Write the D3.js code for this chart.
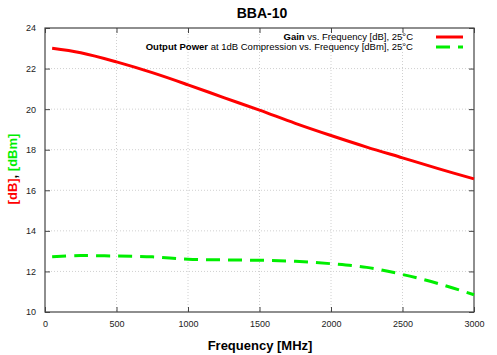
<!DOCTYPE html>
<html><head><meta charset="utf-8">
<script src="https://cdn.jsdelivr.net/npm/d3@7"></script>
<style>body{margin:0;background:#fff;} text{font-family:"Liberation Sans",Arial,sans-serif;}</style>
</head><body>
<svg id="c" width="497" height="355"></svg>
<script>
const freq = [50, 250, 500, 750, 1000, 1250, 1500, 1750, 2000, 2250, 2500, 2750, 3000];
const gain = [23.0, 22.78, 22.33, 21.8, 21.2, 20.57, 19.95, 19.3, 18.7, 18.13, 17.6, 17.07, 16.56];
const p1db = [12.72, 12.78, 12.76, 12.72, 12.6, 12.57, 12.55, 12.5, 12.38, 12.2, 11.85, 11.4, 10.85];
const xTicks = [0, 500, 1000, 1500, 2000, 2500, 3000];
const yTicks = [10, 12, 14, 16, 18, 20, 22, 24];

const svg = d3.select("#c");
const L = 45, R = 474, T = 28, B = 312;
const x = d3.scaleLinear().domain([0, 3000]).range([L, R]);
const y = d3.scaleLinear().domain([10, 24]).range([B, T]);

// grid
svg.append("g").selectAll("line").data(xTicks.slice(1, -1)).join("line")
  .attr("x1", d => x(d)).attr("x2", d => x(d)).attr("y1", T).attr("y2", B)
  .attr("stroke", "#d0d0d0").attr("stroke-dasharray", "1,2").attr("stroke-width", 1);
svg.append("g").selectAll("line").data(yTicks.slice(1, -1)).join("line")
  .attr("x1", L).attr("x2", R).attr("y1", d => y(d)).attr("y2", d => y(d))
  .attr("stroke", "#d0d0d0").attr("stroke-dasharray", "1,2").attr("stroke-width", 1);

// axes
const fmt = d3.format("d");
const axB = svg.append("g").attr("transform", `translate(0,${B})`)
  .call(d3.axisBottom(x).tickValues(xTicks).tickFormat(fmt).tickSizeInner(-5).tickSizeOuter(0).tickPadding(9));
const axT = svg.append("g").attr("transform", `translate(0,${T})`)
  .call(d3.axisTop(x).tickValues(xTicks).tickFormat("").tickSizeInner(-5).tickSizeOuter(0));
const axL = svg.append("g").attr("transform", `translate(${L},0)`)
  .call(d3.axisLeft(y).tickValues(yTicks).tickFormat(fmt).tickSizeInner(-5).tickSizeOuter(0).tickPadding(9));
const axR = svg.append("g").attr("transform", `translate(${R},0)`)
  .call(d3.axisRight(y).tickValues(yTicks).tickFormat("").tickSizeInner(-5).tickSizeOuter(0));
[axB, axT, axL, axR].forEach(a => {
  a.select(".domain").remove();
  a.selectAll("line").attr("stroke", "#444");
  a.selectAll("text").attr("font-size", 9).attr("fill", "#222").attr("font-family", "Liberation Sans, Arial, sans-serif");
});
svg.append("rect").attr("x", L).attr("y", T).attr("width", R - L).attr("height", B - T)
  .attr("fill", "none").attr("stroke", "#444").attr("stroke-width", 1.2);

// lines
const line = (arr) => d3.line().x((d, i) => x(freq[i])).y(d => y(d)).curve(d3.curveCatmullRom.alpha(0.5))(arr);
svg.append("path").attr("d", line(gain)).attr("fill", "none").attr("stroke", "#ff0000").attr("stroke-width", 3);
svg.append("path").attr("d", line(p1db)).attr("fill", "none").attr("stroke", "#00ee00").attr("stroke-width", 3)
  .attr("stroke-dasharray", "14,8");

// title
svg.append("text").attr("x", 262).attr("y", 18).attr("text-anchor", "middle")
  .attr("font-size", 14).attr("font-weight", "bold").text("BBA-10");

// legend
const lg = svg.append("g").attr("font-size", 9.5);
const t1 = lg.append("text").attr("x", 413).attr("y", 40).attr("text-anchor", "end");
t1.append("tspan").attr("font-weight", "bold").text("Gain");
t1.append("tspan").text(" vs. Frequency [dB], 25°C");
const t2 = lg.append("text").attr("x", 413).attr("y", 50).attr("text-anchor", "end");
t2.append("tspan").attr("font-weight", "bold").text("Output Power");
t2.append("tspan").text(" at 1dB Compression vs. Frequency [dBm], 25°C");
lg.append("line").attr("x1", 436).attr("x2", 463).attr("y1", 37).attr("y2", 37)
  .attr("stroke", "#ff0000").attr("stroke-width", 3);
lg.append("line").attr("x1", 436).attr("x2", 463).attr("y1", 47).attr("y2", 47)
  .attr("stroke", "#00ee00").attr("stroke-width", 3).attr("stroke-dasharray", "14,8");

// axis titles
svg.append("text").attr("x", 260).attr("y", 350).attr("text-anchor", "middle")
  .attr("font-size", 13).attr("font-weight", "bold").text("Frequency [MHz]");
const yl = svg.append("text").attr("transform", "translate(17,169) rotate(-90)")
  .attr("text-anchor", "middle").attr("font-size", 13).attr("font-weight", "bold");
yl.append("tspan").attr("fill", "#ff0000").text("[dB]");
yl.append("tspan").attr("fill", "#000").text(", ");
yl.append("tspan").attr("fill", "#00ee00").text("[dBm]");
</script>
</body></html>
